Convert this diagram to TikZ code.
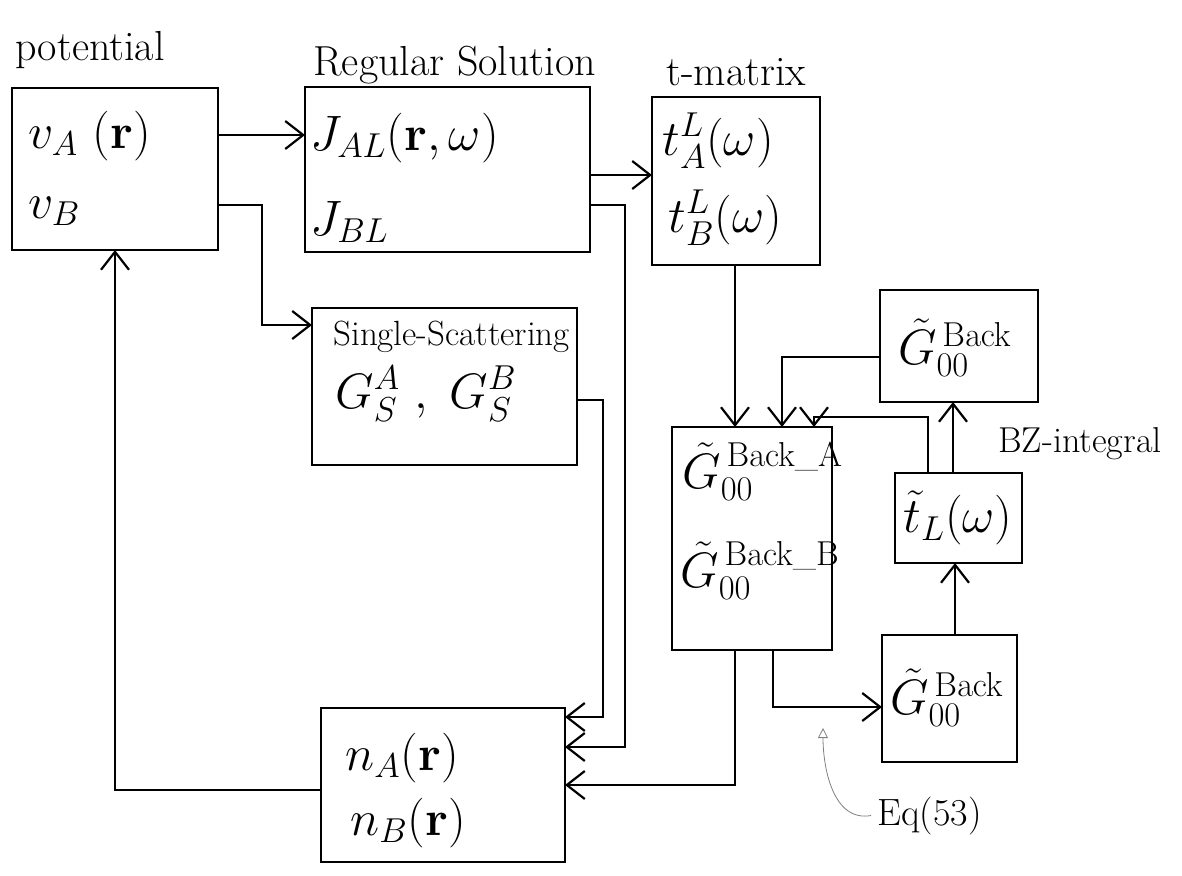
\documentclass[tikz,border=0pt]{standalone}
\usepackage{amsmath,amssymb}
\usepackage{xcolor}
\usepackage{tikz}
\usetikzlibrary{arrows.meta}

\begin{document}
\begin{tikzpicture}[x=0.5pt, y=-0.5pt,
  box/.style={draw, line width=1.4pt, outer sep=0pt, inner sep=0pt},
  ttl/.style={anchor=base west, inner sep=0pt, font=\fontsize{21}{25}\selectfont},
  lbl/.style={anchor=base west, inner sep=0pt, font=\fontsize{24}{28}\selectfont},
  flow/.style={line width=1.1pt, -{Straight Barb[length=9pt,width=14pt,line width=1.1pt]}}]
\useasboundingbox (0,0) rectangle (1182,875);

% boxes
\node[box, minimum width=103pt, minimum height=81pt] (pot) at (115,169) {};
\node[box, minimum width=142.5pt, minimum height=82.5pt] (reg) at (447.5,169.5) {};
\node[box, minimum width=84pt, minimum height=84pt] (tm) at (736,181) {};
\node[box, minimum width=132.5pt, minimum height=78.5pt] (ss) at (444.5,386.5) {};
\node[box, minimum width=79pt, minimum height=56pt] (gbz) at (959,346) {};
\node[box, minimum width=80pt, minimum height=111.5pt] (gab) at (752,538.5) {};
\node[box, minimum width=63.5pt, minimum height=45pt] (tl) at (958.5,518) {};
\node[box, minimum width=67.5pt, minimum height=63.5pt] (gb) at (949.5,698.5) {};
\node[box, minimum width=122pt, minimum height=77pt] (dens) at (443,785) {};

% titles
\node[ttl] (potT) at (15,60) {potential};
\node[ttl] (regT) at (313,75) {Regular Solution};
\node[ttl] (tmT) at (666,85) {t-matrix};

% texts in the boxes
\node[lbl] (potA) at (28,148) {$v_A\ (\mathbf{r})$};
\node[lbl] (potB) at (28,218) {$v_B$};
\node[lbl] (regA) at (310,150) {$J_{AL}(\mathbf{r},\omega)$};
\node[lbl] (regB) at (310,235) {$J_{BL}$};
\node[lbl] (tmA) at (662,155) {$t_A^L(\omega)$};
\node[lbl] (tmB) at (668,232) {$t_B^L(\omega)$};
\node[ttl, font=\fontsize{17.5}{21}\selectfont] (ssT) at (333,345) {Single-Scattering};
\node[lbl] (ssG) at (335,408) {$G_S^A\;,\;G_S^B$};
\node[lbl, anchor=center] (gbzT) at (955,348) {$\tilde{G}_{00}^{\,\mathrm{Back}}$};
\node[lbl] (gabA) at (682,488) {$\tilde{G}_{00}^{\,\mathrm{Back\_A}}$};
\node[lbl] (gabB) at (680,587) {$\tilde{G}_{00}^{\,\mathrm{Back\_B}}$};
\node[lbl, anchor=center] (tlT) at (958,518) {$\tilde{t}_L(\omega)$};
\node[lbl, anchor=center] (gbT) at (947,698) {$\tilde{G}_{00}^{\,\mathrm{Back}}$};
\node[lbl] (densA) at (345,770) {$n_A(\mathbf{r})$};
\node[lbl] (densB) at (350,835) {$n_B(\mathbf{r})$};
\node[ttl, font=\fontsize{18}{21}\selectfont] (bz) at (998,452) {BZ-integral};
\node[ttl, font=\fontsize{19}{22}\selectfont] (eq) at (877,825) {Eq(53)};
\coordinate (eqtip) at (823,728);

% connectors
\draw[flow] (pot.east |- 0,135) -- (reg.west |- 0,135);
\draw[flow] (pot.east |- 0,205) -| (262,325) -- (ss.west |- 0,325);
\draw[flow] (reg.east |- 0,175) -- (tm.west |- 0,175);
\draw[flow] (reg.east |- 0,205) -| (625,747) -- (dens.east |- 0,747);
\draw[flow] (ss.east |- 0,400) -| (603,717) -- (dens.east |- 0,717);
\draw[flow] (gab.south -| 735,0) |- (dens.east |- 0,785);
\draw[flow] (dens.west |- 0,790) -| (pot.south -| 115,0);
\draw[flow] (tm.south -| 735,0) -- (gab.north -| 735,0);
\draw[flow] (gbz.west |- 0,357) -| (gab.north -| 782,0);
\draw[flow] (tl.north -| 928,0) |- (814,417) -- (gab.north -| 814,0);
\draw[flow] (tl.north -| 953,0) -- (gbz.south -| 953,0);
\draw[flow] (gab.south -| 773,0) |- (gb.west |- 0,707);
\draw[flow] (gb.north -| 955,0) -- (tl.south -| 955,0);
\draw[gray, thin, -{Triangle[open,length=5pt,width=5pt]}] ([xshift=-3pt]eq.west) to[out=190,in=-90] (eqtip);
\end{tikzpicture}
\end{document}
